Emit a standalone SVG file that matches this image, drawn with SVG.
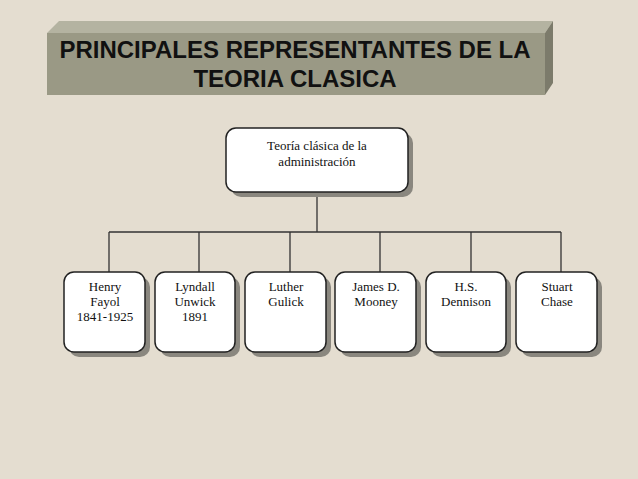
<svg xmlns="http://www.w3.org/2000/svg" width="638" height="479" viewBox="0 0 638 479">
<defs>
<style>
.box{fill:#fff;stroke:#222;stroke-width:1.5}
.sh{fill:#8a877f}
.t{font-family:"Liberation Serif",serif;font-size:13px;text-anchor:middle;fill:#111}
.c{stroke:#333;stroke-width:1.3;fill:none}
</style>
</defs>
<rect width="638" height="479" fill="#e4ddd0"/>
<g id="title">
<polygon points="47,33 59,21 553,21 545,33" fill="#b4b3a1"/>
<polygon points="545,33 553,21 553,83 545,95" fill="#7c7b6b"/>
<rect x="47" y="33" width="498" height="62" fill="#9a9985"/>
<text x="295" y="58" font-family="Liberation Sans,sans-serif" font-weight="bold" font-size="24" text-anchor="middle" fill="#111">PRINCIPALES REPRESENTANTES DE LA</text>
<text x="295" y="87" font-family="Liberation Sans,sans-serif" font-weight="bold" font-size="24" text-anchor="middle" fill="#111">TEORIA CLASICA</text>
</g>
<g id="connectors">
<path class="c" d="M317 192V232M109 232H561M109 232V272M199 232V272M290 232V272M380 232V272M471 232V272M561 232V272"/>
</g>
<g id="root"><rect class="sh" x="231" y="133" width="182" height="64" rx="10"/><rect class="box" x="226" y="128" width="182" height="64" rx="10"/><text class="t" x="317" y="150">Teoría clásica de la</text><text class="t" x="317" y="166">administración</text></g>
<g id="n1"><rect class="sh" x="69" y="277" width="81" height="80" rx="10"/><rect class="box" x="64" y="272" width="81" height="80" rx="10"/><text class="t" x="105" y="291">Henry</text><text class="t" x="105" y="306">Fayol</text><text class="t" x="105" y="321">1841-1925</text></g>
<g id="n2"><rect class="sh" x="160" y="277" width="80" height="80" rx="10"/><rect class="box" x="155" y="272" width="80" height="80" rx="10"/><text class="t" x="195" y="291">Lyndall</text><text class="t" x="195" y="306">Unwick</text><text class="t" x="195" y="321">1891</text></g>
<g id="n3"><rect class="sh" x="250" y="277" width="81" height="80" rx="10"/><rect class="box" x="245" y="272" width="81" height="80" rx="10"/><text class="t" x="286" y="291">Luther</text><text class="t" x="286" y="306">Gulick</text></g>
<g id="n4"><rect class="sh" x="340" y="277" width="81" height="80" rx="10"/><rect class="box" x="335" y="272" width="81" height="80" rx="10"/><text class="t" x="376" y="291">James D.</text><text class="t" x="376" y="306">Mooney</text></g>
<g id="n5"><rect class="sh" x="431" y="277" width="80" height="80" rx="10"/><rect class="box" x="426" y="272" width="80" height="80" rx="10"/><text class="t" x="466" y="291">H.S.</text><text class="t" x="466" y="306">Dennison</text></g>
<g id="n6"><rect class="sh" x="521" y="277" width="81" height="80" rx="10"/><rect class="box" x="516" y="272" width="81" height="80" rx="10"/><text class="t" x="557" y="291">Stuart</text><text class="t" x="557" y="306">Chase</text></g>
</svg>
